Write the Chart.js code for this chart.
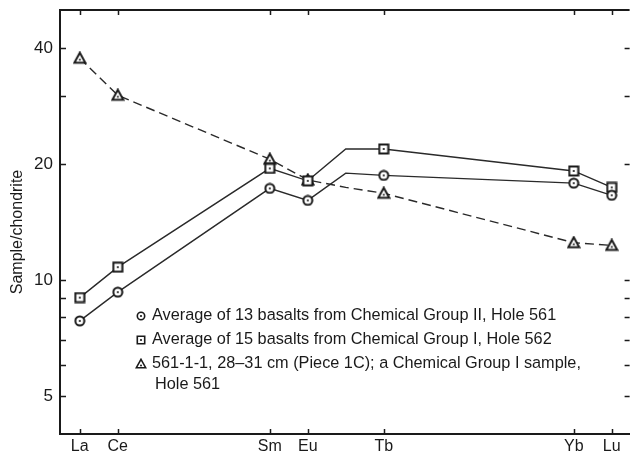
<!DOCTYPE html>
<html>
<head>
<meta charset="utf-8">
<script src="https://cdn.jsdelivr.net/npm/chart.js@4"></script>
<style>
  html, body { margin: 0; padding: 0; background: #fff; }
  #wrap { width: 636px; height: 457px; }
</style>
</head>
<body>
<div id="wrap"><canvas id="graph"></canvas></div>
<script>
// rare earth elements, placed by atomic number (Gd only used for the kink, no marker)
var elements = ['La', 'Ce', 'Sm', 'Eu', 'Gd', 'Tb', 'Yb', 'Lu'];
var atomicNumbers = [57, 58, 62, 63, 64, 65, 70, 71];

// x axis labels
var tickElements = ['La', 'Ce', 'Sm', 'Eu', 'Tb', 'Yb', 'Lu'];
var tickPositions = [57, 58, 62, 63, 65, 70, 71];

// y axis (log) ticks
var yTicks = [5, 6, 7, 8, 9, 10, 20, 30, 40];
var yLabels = [5, 10, 20, 40];

// series
var group2Hole561 = [7.83, 9.3, 17.3, 16.1, 18.95, 18.7, 17.85, 16.6];
var group1Hole562 = [9.0, 10.8, 19.5, 18.1, 21.9, 21.9, 19.2, 17.4];
var sample561 = [37.7, 30.2, 20.6, 18.2, 17.4, 16.8, 12.5, 12.3];

var yTitle = 'Sample/chondrite';
var legendText = [
  'Average of 13 basalts from Chemical Group II, Hole 561',
  'Average of 15 basalts from Chemical Group I, Hole 562',
  '561-1-1, 28\u201331 cm (Piece 1C); a Chemical Group I sample,',
  'Hole 561'
];

var ink = '#1a1a1a';
var fontFam = '"Liberation Sans", Arial, sans-serif';

// small marker images
function makeMarker(shape, size, lw) {
  var c = document.createElement('canvas');
  c.width = size; c.height = size;
  var g = c.getContext('2d');
  var m = size / 2;
  g.strokeStyle = ink;
  g.fillStyle = '#fff';
  g.lineWidth = lw;
  g.beginPath();
  if (shape === 'circle') {
    g.arc(m, m, m - lw / 2 - 0.5, 0, Math.PI * 2);
  } else if (shape === 'square') {
    var s = m - lw / 2 - 0.5;
    g.rect(m - s, m - s, 2 * s, 2 * s);
  } else {
    var p = lw / 2 + 0.5;
    g.moveTo(m, p);
    g.lineTo(size - p, size - p - 1);
    g.lineTo(p, size - p - 1);
    g.closePath();
  }
  g.fill();
  g.stroke();
  g.fillStyle = ink;
  g.beginPath();
  if (shape === 'triangle') g.arc(m, m + 1.5, 1, 0, Math.PI * 2);
  else g.arc(m, m, 1.1, 0, Math.PI * 2);
  g.fill();
  return c;
}

var circleMark = makeMarker('circle', 12, 2);
var squareMark = makeMarker('square', 12, 2);
var triMark = makeMarker('triangle', 14, 2);
var legendMarks = [makeMarker('circle', 10, 1.6), makeMarker('square', 10, 1.6), makeMarker('triangle', 12, 1.6)];

function toPoints(values) {
  return values.map(function (v, i) { return { x: atomicNumbers[i], y: v }; });
}

function hideGd(ctx) {
  return elements[ctx.dataIndex] === 'Gd' ? 0 : 5;
}

// ticks pointing inward on all four sides + top border + axis title + legend
var framePlugin = {
  id: 'frame',
  afterDraw: function (chart) {
    var ctx = chart.ctx;
    var a = chart.chartArea;
    var xs = chart.scales.x, ys = chart.scales.y;
    ctx.save();
    ctx.strokeStyle = ink;
    ctx.lineWidth = 1.5;
    ctx.beginPath();
    yTicks.forEach(function (t) {
      var y = Math.round(ys.getPixelForValue(t)) + 0.5;
      ctx.moveTo(a.left, y); ctx.lineTo(a.left + 6, y);
      ctx.moveTo(a.right, y); ctx.lineTo(a.right - 5, y);
    });
    tickPositions.forEach(function (t) {
      var x = Math.round(xs.getPixelForValue(t)) + 0.5;
      ctx.moveTo(x, a.bottom); ctx.lineTo(x, a.bottom - 5);
      ctx.moveTo(x, a.top); ctx.lineTo(x, a.top + 5);
    });
    ctx.stroke();
    ctx.lineWidth = 2;
    ctx.beginPath();
    ctx.moveTo(a.left - 1, a.top);
    ctx.lineTo(a.right, a.top);
    ctx.stroke();

    ctx.fillStyle = ink;
    ctx.textBaseline = 'middle';

    // y axis title
    ctx.save();
    ctx.translate(18, 232);
    ctx.rotate(-Math.PI / 2);
    ctx.textAlign = 'center';
    ctx.font = '16px ' + fontFam;
    ctx.fillText(yTitle, 0, 0);
    ctx.restore();

    // legend
    var rows = [316, 340, 364, 385];
    ctx.font = '16.3px ' + fontFam;
    for (var i = 0; i < 3; i++) {
      var mk = legendMarks[i];
      ctx.drawImage(mk, 141 - mk.width / 2, rows[i] - mk.height / 2);
    }
    legendText.forEach(function (t, i) {
      ctx.fillText(t, i === 3 ? 155 : 152, rows[i]);
    });
    ctx.restore();
  }
};

var graph = new Chart(document.getElementById('graph'), {
  type: 'line',
  data: {
    datasets: [{
      label: legendText[0],
      data: toPoints(group2Hole561),
      borderColor: '#2a2a2a',
      borderWidth: 1.4,
      pointStyle: circleMark,
      pointRadius: hideGd
    }, {
      label: legendText[1],
      data: toPoints(group1Hole562),
      borderColor: '#2a2a2a',
      borderWidth: 1.4,
      pointStyle: squareMark,
      pointRadius: hideGd
    }, {
      label: legendText[2],
      data: toPoints(sample561),
      borderColor: '#2a2a2a',
      borderWidth: 1.4,
      borderDash: [9, 5],
      pointStyle: triMark,
      pointRadius: hideGd
    }]
  },
  options: {
    responsive: true,
    maintainAspectRatio: false,
    animation: false,
    layout: { padding: { top: 10, right: 0, left: 0, bottom: 0 } },
    plugins: { legend: { display: false }, tooltip: { enabled: false } },
    scales: {
      x: {
        type: 'linear',
        min: 56.48,
        max: 71.47,
        afterFit: function (s) { s.height = 23; s.paddingLeft = 0; s.paddingRight = 0; },
        afterBuildTicks: function (s) {
          s.ticks = tickPositions.map(function (v) { return { value: v }; });
        },
        ticks: {
          padding: 3,
          autoSkip: false,
          maxRotation: 0,
          color: ink,
          font: { family: fontFam, size: 16 },
          callback: function (v) {
            var i = tickPositions.indexOf(v);
            return i >= 0 ? tickElements[i] : '';
          }
        },
        grid: { drawOnChartArea: false, drawTicks: false },
        border: { color: ink, width: 2 }
      },
      y: {
        type: 'logarithmic',
        min: 3.98,
        max: 50.3,
        afterFit: function (s) { s.width = 60; s.paddingTop = 0; s.paddingBottom = 0; },
        afterBuildTicks: function (s) {
          s.ticks = yTicks.map(function (v) { return { value: v }; });
        },
        ticks: {
          padding: 7,
          autoSkip: false,
          color: ink,
          font: { family: fontFam, size: 17 },
          callback: function (v) {
            return yLabels.indexOf(v) >= 0 ? String(v) : '';
          }
        },
        grid: { drawOnChartArea: false, drawTicks: false },
        border: { color: ink, width: 2 }
      }
    }
  },
  plugins: [framePlugin]
});
</script>
</body>
</html>
